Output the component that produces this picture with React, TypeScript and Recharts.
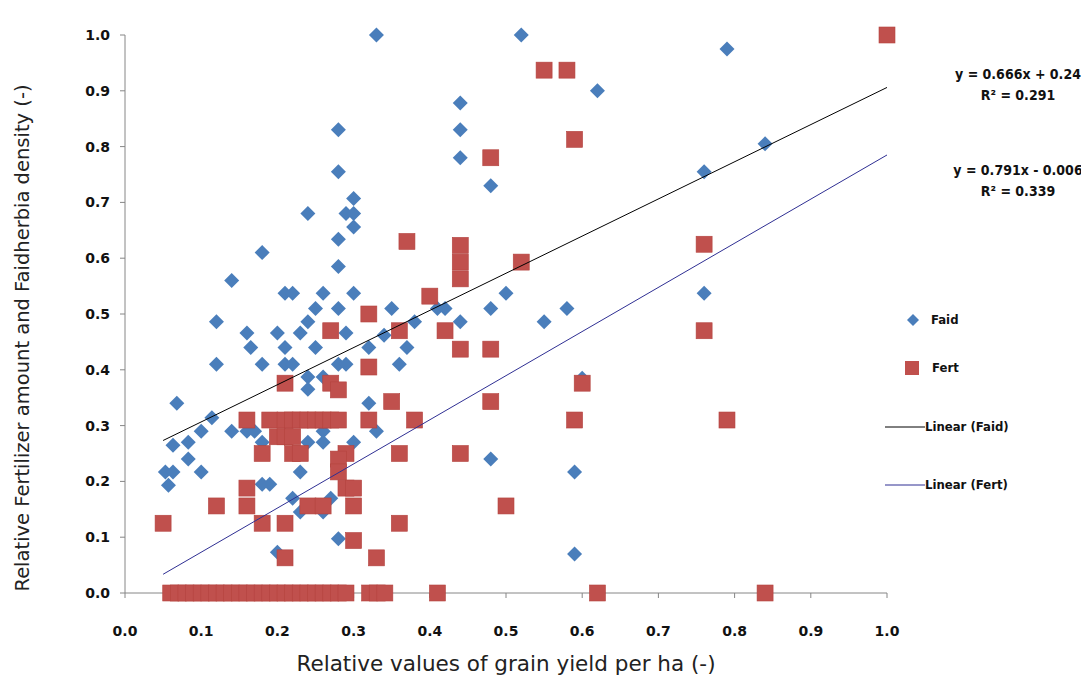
import { ScatterChart, Scatter, XAxis, YAxis, Legend } from 'recharts';

// Faidherbia density (blue diamonds) vs relative grain yield
const faidYield = [
  0.33, 0.52, 0.79, 0.62, 0.28, 0.44, 0.44, 0.44, 0.84, 0.28, 0.48, 0.76, 0.3, 0.24, 0.29, 0.3,
  0.3, 0.28, 0.18, 0.28, 0.14, 0.21, 0.22, 0.26, 0.3, 0.5, 0.76, 0.25, 0.28, 0.35, 0.41, 0.42,
  0.48, 0.58, 0.12, 0.24, 0.38, 0.44, 0.55, 0.16, 0.2, 0.23, 0.29, 0.34, 0.165, 0.21, 0.25, 0.32,
  0.37, 0.12, 0.18, 0.21, 0.22, 0.28, 0.29, 0.36, 0.24, 0.26, 0.6, 0.24, 0.068, 0.32, 0.114, 0.1,
  0.14, 0.16, 0.17, 0.26, 0.33, 0.063, 0.083, 0.18, 0.24, 0.26, 0.3, 0.083, 0.48, 0.053, 0.063, 0.1,
  0.23, 0.59, 0.057, 0.18, 0.19, 0.22, 0.27, 0.23, 0.26, 0.28, 0.2, 0.59,
];
const faidDensity = [
  1.0, 1.0, 0.975, 0.9, 0.83, 0.878, 0.83, 0.78, 0.805, 0.755, 0.73, 0.755, 0.707, 0.68, 0.68, 0.68,
  0.656, 0.634, 0.61, 0.585, 0.56, 0.537, 0.537, 0.537, 0.537, 0.537, 0.537, 0.51, 0.51, 0.51, 0.51, 0.51,
  0.51, 0.51, 0.486, 0.486, 0.486, 0.486, 0.486, 0.466, 0.466, 0.466, 0.466, 0.462, 0.44, 0.44, 0.44, 0.44,
  0.44, 0.41, 0.41, 0.41, 0.41, 0.41, 0.41, 0.41, 0.387, 0.387, 0.385, 0.365, 0.34, 0.34, 0.314, 0.29,
  0.29, 0.29, 0.29, 0.29, 0.29, 0.265, 0.27, 0.27, 0.27, 0.27, 0.27, 0.24, 0.24, 0.217, 0.217, 0.217,
  0.217, 0.217, 0.193, 0.195, 0.195, 0.17, 0.17, 0.145, 0.145, 0.097, 0.073, 0.07,
];

// Fertilizer amount (red squares) vs relative grain yield
const fertYield = [
  1.0, 0.55, 0.58, 0.59, 0.48, 0.37, 0.44, 0.76, 0.44, 0.52, 0.44, 0.4, 0.32, 0.27, 0.36, 0.42,
  0.76, 0.44, 0.48, 0.32, 0.21, 0.27, 0.28, 0.6, 0.35, 0.48, 0.16, 0.19, 0.21, 0.22, 0.23, 0.24,
  0.25, 0.26, 0.27, 0.28, 0.32, 0.38, 0.59, 0.79, 0.2, 0.21, 0.22, 0.18, 0.22, 0.23, 0.29, 0.36,
  0.44, 0.28, 0.28, 0.16, 0.29, 0.3, 0.12, 0.16, 0.24, 0.26, 0.3, 0.5, 0.05, 0.18, 0.21, 0.36,
  0.3, 0.21, 0.33,
  0.06, 0.07, 0.08, 0.09, 0.1, 0.11, 0.12, 0.13, 0.14, 0.15, 0.16, 0.17, 0.18, 0.19, 0.2, 0.21,
  0.22, 0.23, 0.24, 0.25, 0.26, 0.27, 0.28, 0.29, 0.321, 0.331, 0.341, 0.41, 0.62, 0.84,
];
const fertAmount = [
  1.0, 0.937, 0.937, 0.813, 0.78, 0.63, 0.623, 0.625, 0.593, 0.593, 0.563, 0.532, 0.5, 0.47, 0.47, 0.47,
  0.47, 0.437, 0.437, 0.405, 0.376, 0.376, 0.364, 0.376, 0.343, 0.343, 0.31, 0.31, 0.31, 0.31, 0.31, 0.31,
  0.31, 0.31, 0.31, 0.31, 0.31, 0.31, 0.31, 0.31, 0.28, 0.28, 0.28, 0.25, 0.25, 0.25, 0.25, 0.25,
  0.25, 0.24, 0.217, 0.188, 0.188, 0.188, 0.156, 0.156, 0.156, 0.156, 0.156, 0.156, 0.125, 0.125, 0.125, 0.125,
  0.094, 0.063, 0.063,
  0, 0, 0, 0, 0, 0, 0, 0, 0, 0, 0, 0, 0, 0, 0, 0,
  0, 0, 0, 0, 0, 0, 0, 0, 0, 0, 0, 0, 0, 0,
];

// linear trendlines: [slope, intercept], fitted range
const trendNames = ['Linear (Faid)', 'Linear (Fert)'];
const trendSlopes = [0.666, 0.791];
const trendIntercepts = [0.24, -0.006];
const trendRange = [0.05, 1.0];
const trendLabels = [
  ['y = 0.666x + 0.24', 'R\u00b2 = 0.291'],
  ['y = 0.791x - 0.006', 'R\u00b2 = 0.339'],
];

const ticks = [0, 0.1, 0.2, 0.3, 0.4, 0.5, 0.6, 0.7, 0.8, 0.9, 1.0];

const faidData = faidYield.map((x, i) => ({ x, y: faidDensity[i] }));
const fertData = fertYield.map((x, i) => ({ x, y: fertAmount[i] }));
const trendData = trendSlopes.map((m, i) =>
  trendRange.map(x => ({ x, y: m * x + trendIntercepts[i] }))
);

const BLUE = '#4A7EBB';
const RED = '#C0504D';
const TREND_COLORS = ['#000000', '#2F2F93'];
const NARROW = "'DejaVu Sans Condensed', 'Liberation Sans Narrow', Arial, sans-serif";
const TITLE_FONT = "'DejaVu Sans', Verdana, sans-serif";
const TICK_STYLE = { fill: '#111', fontFamily: "'DejaVu Sans', sans-serif", fontWeight: 700, fontSize: 14 };

const Diamond = (props: any) => {
  const { cx, cy } = props;
  const r = 7.5;
  return (
    <polygon
      points={`${cx},${cy - r} ${cx + r},${cy} ${cx},${cy + r} ${cx - r},${cy}`}
      fill={BLUE}
    />
  );
};

const Square = (props: any) => {
  const { cx, cy } = props;
  return (
    <rect x={cx - 8} y={cy - 8} width={16} height={16} fill={RED} stroke="#B4433F" strokeWidth={0.6} />
  );
};

const NoDot = () => null;

const YTitle = (props: any) => {
  const { viewBox } = props;
  const cx = viewBox.x + 14;
  const cy = viewBox.y + viewBox.height / 2 + 24;
  return (
    <text
      x={cx}
      y={cy}
      transform={`rotate(-90, ${cx}, ${cy})`}
      textAnchor="middle"
      dominantBaseline="central"
      fontFamily={TITLE_FONT}
      fontSize={19.5}
      fill="#222"
    >
      Relative Fertilizer amount and Faidherbia density (-)
    </text>
  );
};

const LegendBox = () => {
  const rowTop = [0, 48, 107, 165];
  const labelStyle = { fontFamily: NARROW, fontWeight: 700, fontSize: 13, color: '#111' };
  return (
    <div style={{ position: 'relative', width: 180, height: 200 }}>
      <div style={{ position: 'absolute', top: rowTop[0], left: 22, display: 'flex', alignItems: 'center' }}>
        <svg width={12} height={12}>
          <polygon points="6,0 12,6 6,12 0,6" fill={BLUE} />
        </svg>
        <span style={{ ...labelStyle, marginLeft: 12 }}>Faid</span>
      </div>
      <div style={{ position: 'absolute', top: rowTop[1], left: 20, display: 'flex', alignItems: 'center' }}>
        <svg width={14} height={14}>
          <rect x={0} y={0} width={14} height={14} fill={RED} />
        </svg>
        <span style={{ ...labelStyle, marginLeft: 13 }}>Fert</span>
      </div>
      {trendNames.map((name, i) => (
        <div
          key={name}
          style={{ position: 'absolute', top: rowTop[2 + i], left: 0, display: 'flex', alignItems: 'center' }}
        >
          <svg width={40} height={12}>
            <line x1={0} x2={40} y1={6} y2={6} stroke={TREND_COLORS[i]} strokeWidth={1} />
          </svg>
          <span style={labelStyle}>{name}</span>
        </div>
      ))}
    </div>
  );
};

export default function App() {
  const eqTops = [56, 152];
  return (
    <div style={{ position: 'relative', width: 1081, height: 667, background: '#fff' }}>
      <ScatterChart width={1081} height={667} margin={{ top: 27, right: 202, bottom: 0, left: 0 }}>
        <XAxis
          type="number"
          dataKey="x"
          domain={[0, 1]}
          ticks={ticks}
          tickFormatter={(v: number) => v.toFixed(1)}
          height={82}
          tickSize={5}
          tickMargin={28}
          stroke="#868686"
          tick={TICK_STYLE}
          label={{
            value: 'Relative values of grain yield per ha (-)',
            position: 'insideBottom',
            offset: 4,
            fontFamily: TITLE_FONT,
            fontSize: 21.5,
            fill: '#222',
          }}
        />
        <YAxis
          type="number"
          dataKey="y"
          domain={[0, 1]}
          ticks={ticks}
          tickFormatter={(v: number) => v.toFixed(1)}
          width={117}
          tickSize={5}
          tickMargin={10}
          stroke="#868686"
          tick={TICK_STYLE}
          label={(p: any) => <YTitle {...p} />}
        />
        <Legend
          layout="vertical"
          align="center"
          verticalAlign="middle"
          content={() => <LegendBox />}
          wrapperStyle={{ position: 'absolute', left: 877, top: 304, width: 180 }}
        />
        <Scatter name="Faid" data={faidData} fill={BLUE} shape={Diamond} isAnimationActive={false} />
        <Scatter name="Fert" data={fertData} fill={RED} shape={Square} isAnimationActive={false} />
        {trendData.map((d, i) => (
          <Scatter
            key={trendNames[i]}
            name={trendNames[i]}
            data={d}
            line={{ stroke: TREND_COLORS[i], strokeWidth: 1 }}
            shape={NoDot}
            fill={TREND_COLORS[i]}
            isAnimationActive={false}
          />
        ))}
      </ScatterChart>
      {trendLabels.map((lines, i) => (
        <div
          key={lines[0]}
          style={{
            position: 'absolute',
            left: 935,
            top: eqTops[i],
            width: 150,
            textAlign: 'center',
            fontFamily: NARROW,
            fontWeight: 700,
            fontSize: 14,
            lineHeight: '21px',
            color: '#111',
          }}
        >
          <div>{lines[0]}</div>
          <div>{lines[1]}</div>
        </div>
      ))}
    </div>
  );
}
